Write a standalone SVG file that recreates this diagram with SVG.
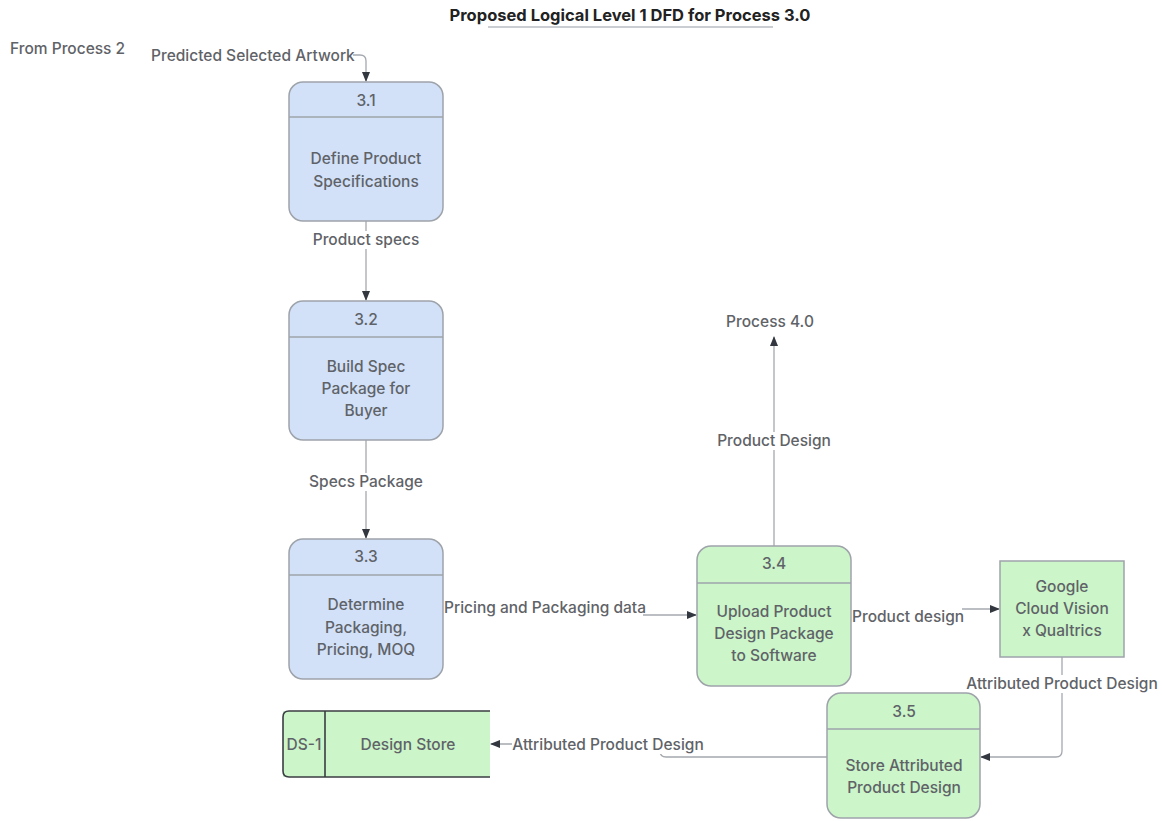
<svg xmlns="http://www.w3.org/2000/svg" width="1162" height="821" viewBox="0 0 1162 821">
  <style>
    text { font-family: Inter, "Liberation Sans", sans-serif; font-size: 15.5px; fill: #5f6368; font-weight: 500; }
    .title { font-weight: bold; fill: #222; font-size: 16.5px; }
    .c { text-anchor: middle; }
    .blue { fill: #d2e1f8; stroke: #9ea3aa; stroke-width: 1.5; }
    .green { fill: #ccf5c9; stroke: #9ea3aa; stroke-width: 1.5; }
    .div { stroke: #9ea3aa; stroke-width: 1.5; }
    .flow { fill: none; stroke: #a4a8ae; stroke-width: 1.3; }
    .bg { fill: #fff; }
  </style>
  <defs>
    <marker id="arr" viewBox="0 0 10 10" refX="9" refY="5" markerWidth="10" markerHeight="10" markerUnits="userSpaceOnUse" orient="auto">
      <path d="M0,1 L10,5 L0,9 Z" fill="#333840"/>
    </marker>
  </defs>

  <rect width="1162" height="821" fill="#fff"/>

  <!-- heading -->
  <text class="title c" x="630" y="21">Proposed Logical Level 1 DFD for Process 3.0</text>
  <line x1="488" y1="27" x2="773" y2="27" stroke="#b8bcc2" stroke-width="1.3"/>

  <text x="10" y="54">From Process 2</text>

  <!-- data flows -->
  <g id="connectors">
    <path class="flow" d="M353,55 H360 Q366,55 366,61 V81" marker-end="url(#arr)"/>
    <path class="flow" d="M366,221 V300" marker-end="url(#arr)"/>
    <path class="flow" d="M366,440 V538" marker-end="url(#arr)"/>
    <path class="flow" d="M643,615 H696" marker-end="url(#arr)"/>
    <path class="flow" d="M774,546 V337" marker-end="url(#arr)"/>
    <path class="flow" d="M962,609 H999" marker-end="url(#arr)"/>
    <path class="flow" d="M1062,657 V751 Q1062,757 1056,757 H981" marker-end="url(#arr)"/>
    <path class="flow" d="M827,757 H666 Q660,757 660,751 V744 H491" marker-end="url(#arr)"/>

    <text x="151" y="61">Predicted Selected Artwork</text>

    <rect class="bg" x="310" y="231" width="112" height="18"/>
    <text class="c" x="366" y="245">Product specs</text>

    <rect class="bg" x="304" y="473" width="124" height="18"/>
    <text class="c" x="366" y="487">Specs Package</text>

    <text x="444" y="613">Pricing and Packaging data</text>

    <text class="c" x="770" y="327">Process 4.0</text>

    <rect class="bg" x="712" y="432" width="124" height="18"/>
    <text class="c" x="774" y="446">Product Design</text>

    <text x="852" y="622">Product design</text>

    <rect class="bg" x="966" y="675" width="194" height="18"/>
    <text class="c" x="1062" y="689">Attributed Product Design</text>

    <rect class="bg" x="512" y="736" width="194" height="18"/>
    <text class="c" x="608" y="750">Attributed Product Design</text>
  </g>

  <!-- 3.1 -->
  <g id="p3_1">
    <rect class="blue" x="289" y="82" width="154" height="139" rx="14"/>
    <line class="div" x1="289" y1="117" x2="443" y2="117"/>
    <text class="c" x="366" y="106">3.1</text>
    <text class="c" x="366" y="164">Define Product</text>
    <text class="c" x="366" y="187">Specifications</text>
  </g>

  <!-- 3.2 -->
  <g id="p3_2">
    <rect class="blue" x="289" y="301" width="154" height="139" rx="14"/>
    <line class="div" x1="289" y1="337" x2="443" y2="337"/>
    <text class="c" x="366" y="325">3.2</text>
    <text class="c" x="366" y="372">Build Spec</text>
    <text class="c" x="366" y="394">Package for</text>
    <text class="c" x="366" y="416">Buyer</text>
  </g>

  <!-- 3.3 -->
  <g id="p3_3">
    <rect class="blue" x="289" y="539" width="154" height="140" rx="14"/>
    <line class="div" x1="289" y1="575" x2="443" y2="575"/>
    <text class="c" x="366" y="562">3.3</text>
    <text class="c" x="366" y="610">Determine</text>
    <text class="c" x="366" y="633">Packaging,</text>
    <text class="c" x="366" y="655">Pricing, MOQ</text>
  </g>

  <!-- 3.4 -->
  <g id="p3_4">
    <rect class="green" x="697" y="546" width="154" height="140" rx="14"/>
    <line class="div" x1="697" y1="583" x2="851" y2="583"/>
    <text class="c" x="774" y="569">3.4</text>
    <text class="c" x="774" y="617">Upload Product</text>
    <text class="c" x="774" y="639">Design Package</text>
    <text class="c" x="774" y="661">to Software</text>
  </g>

  <!-- external entity -->
  <g id="google">
    <rect class="green" x="1000" y="561" width="124" height="96" stroke="#888c92"/>
    <text class="c" x="1062" y="592">Google</text>
    <text class="c" x="1062" y="614">Cloud Vision</text>
    <text class="c" x="1062" y="636">x Qualtrics</text>
  </g>

  <!-- 3.5 -->
  <g id="p3_5">
    <rect class="green" x="827" y="693" width="153" height="125" rx="14"/>
    <line class="div" x1="827" y1="729" x2="980" y2="729"/>
    <text class="c" x="904" y="717">3.5</text>
    <text class="c" x="904" y="771">Store Attributed</text>
    <text class="c" x="904" y="793">Product Design</text>
  </g>

  <!-- data store -->
  <g id="ds1">
    <rect x="283" y="711" width="207" height="66" fill="#ccf5c9"/>
    <path d="M490,711 H289 Q283,711 283,717 V771 Q283,777 289,777 H490" fill="none" stroke="#3a3d42" stroke-width="1.6"/>
    <line x1="325" y1="711" x2="325" y2="777" stroke="#3a3d42" stroke-width="1.6"/>
    <text class="c" x="304" y="750">DS-1</text>
    <text class="c" x="408" y="750">Design Store</text>
  </g>
</svg>
